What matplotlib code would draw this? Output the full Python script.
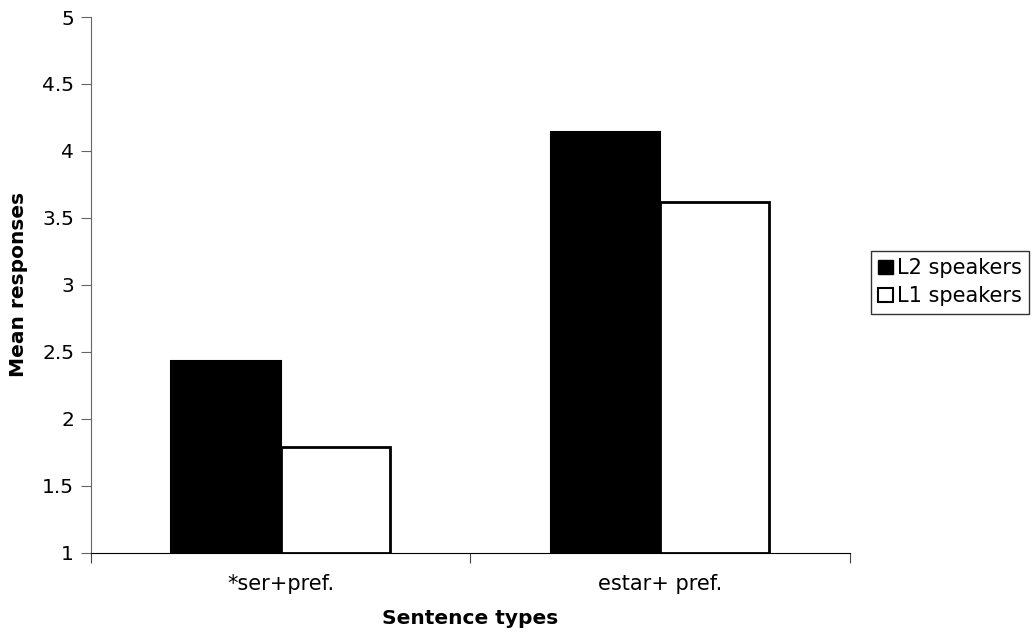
import numpy as np
import matplotlib.pyplot as plt
from matplotlib.patches import Patch

# Mean responses per sentence type
categories = ['*ser+pref.', 'estar+ pref.']
l2_speakers = [2.43, 4.14]
l1_speakers = [1.79, 3.62]

plt.rcParams['font.family'] = ['Verdana', 'DejaVu Sans']

fig = plt.figure(figsize=(10.33, 6.35), dpi=100)
ax = fig.add_axes([0.0878, 0.1296, 0.735, 0.8436])

x = np.arange(len(categories))
w = 0.288
ax.bar(x - w / 2, np.array(l2_speakers) - 1, w, bottom=1, color='black',
       edgecolor='black', linewidth=1.5)
ax.bar(x + w / 2, np.array(l1_speakers) - 1, w, bottom=1, color='white',
       edgecolor='black', linewidth=2)

ax.set_xlim(-0.5, 1.5)
ax.set_ylim(1, 5)
ax.set_yticks([1, 1.5, 2, 2.5, 3, 3.5, 4, 4.5, 5])
ax.set_yticklabels(['1', '1.5', '2', '2.5', '3', '3.5', '4', '4.5', '5'])

# category labels between boundary ticks
ax.set_xticks([-0.5, 0.5, 1.5])
ax.set_xticklabels([])
ax.set_xticks(x, minor=True)
ax.set_xticklabels(categories, minor=True)
ax.tick_params(axis='x', which='minor', length=0, pad=15, labelsize=15)
ax.tick_params(axis='x', which='major', length=7, color='#444444')
ax.tick_params(axis='y', length=7, color='#666666', labelsize=14.5, pad=5)

ax.spines['top'].set_visible(False)
ax.spines['right'].set_visible(False)
ax.spines['left'].set_color('#666666')
ax.spines['bottom'].set_color('black')

ax.set_xlabel('Sentence types', fontsize=14.5, fontweight='bold', labelpad=11)
ax.set_ylabel('Mean responses', fontsize=14.5, fontweight='bold', labelpad=10)

handles = [Patch(facecolor='black', edgecolor='black', label='L2 speakers'),
           Patch(facecolor='white', edgecolor='black', linewidth=1.5, label='L1 speakers')]
leg = fig.legend(handles=handles, loc='upper left', bbox_to_anchor=(0.843, 0.605),
                 fontsize=15, frameon=True, fancybox=False, handlelength=0.7,
                 handleheight=0.7, handletextpad=0.2, borderpad=0.35,
                 labelspacing=0.4, borderaxespad=0)
leg.get_frame().set_edgecolor('black')
leg.get_frame().set_linewidth(1)

fig.savefig('out.png', dpi=100)
